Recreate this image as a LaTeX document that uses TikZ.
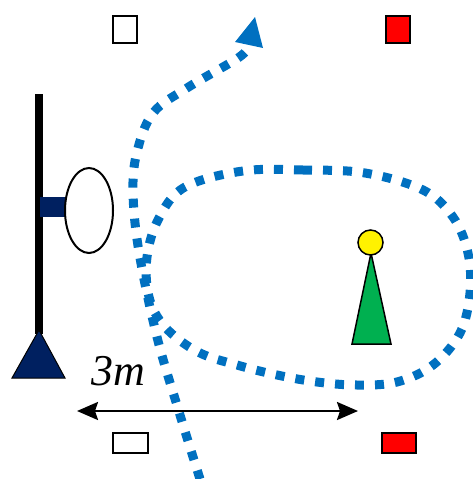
\documentclass[tikz,border=0pt]{standalone}
\usepackage{fontspec}
\setmainfont{Liberation Serif}
\usetikzlibrary{arrows.meta}
\definecolor{dotblue}{RGB}{0,112,192}
\definecolor{navy}{RGB}{0,32,96}
\definecolor{grn}{RGB}{0,176,80}
\tikzset{
  dotline/.style={dotblue, line width=9pt, dash pattern=on 9pt off 11pt},
  cone/.style={draw=black, line width=1.5pt},
  marker/.style={draw=black, line width=2pt},
}
\begin{document}
\begin{tikzpicture}[x=1pt,y=-1pt]
\useasboundingbox (0,0) rectangle (472,479);
% markers
\draw[marker, fill=white] (113,16) rectangle (137,43);
\draw[marker, fill=red] (386,16) rectangle (410,43);
\draw[marker, fill=white] (113,433) rectangle (148,453);
\draw[marker, fill=red] (382,433) rectangle (416,453);
% goal post
\draw[line width=8pt] (39,94) -- (39,334);
\fill[navy] (40,197) rectangle (66,217);
\draw[line width=2pt, fill=white] (89,210.5) ellipse [x radius=24, y radius=42.5];
\draw[cone, fill=navy, line width=1pt] (39,330) -- (65,378) -- (12,378) -- cycle;
% cone + ball
\draw[cone, fill=grn] (371,253) -- (391,344) -- (352,344) -- cycle;
\draw[cone, fill=yellow] (370.5,242.5) circle (12.5);
% loop
\draw[dotline] plot[smooth cycle, tension=0.6] coordinates {
 (243,171) (303,170) (365,173) (423,190) (453,217) (468,253) (470,293)
 (460,333) (433,365) (397,382) (357,385) (317,382) (277,375) (237,365)
 (198,352) (165,327) (149,297) (147,257) (159,218) (185,187)};
% path with arrow
\draw[dotline] plot[smooth, tension=0.6] coordinates {
 (200,479) (180,415) (157,337) (139,252) (133,192) (137,152) (153,113)
 (187,88) (238,58) (249,46)};
\fill[dotblue] (255,17) -- (263,48) -- (235,42) -- cycle;
% distance
\coordinate (dl) at (77,411);
\coordinate (dr) at (358,411);
\draw[line width=2.5pt, {Stealth[length=21pt,width=18pt,inset=3pt]}-{Stealth[length=21pt,width=18pt,inset=3pt]}] (dl) -- (dr);
\node[anchor=base west, inner sep=0pt] (lbl) at (91,385) {\fontsize{44}{44}\selectfont\itshape 3m};
\end{tikzpicture}
\end{document}
